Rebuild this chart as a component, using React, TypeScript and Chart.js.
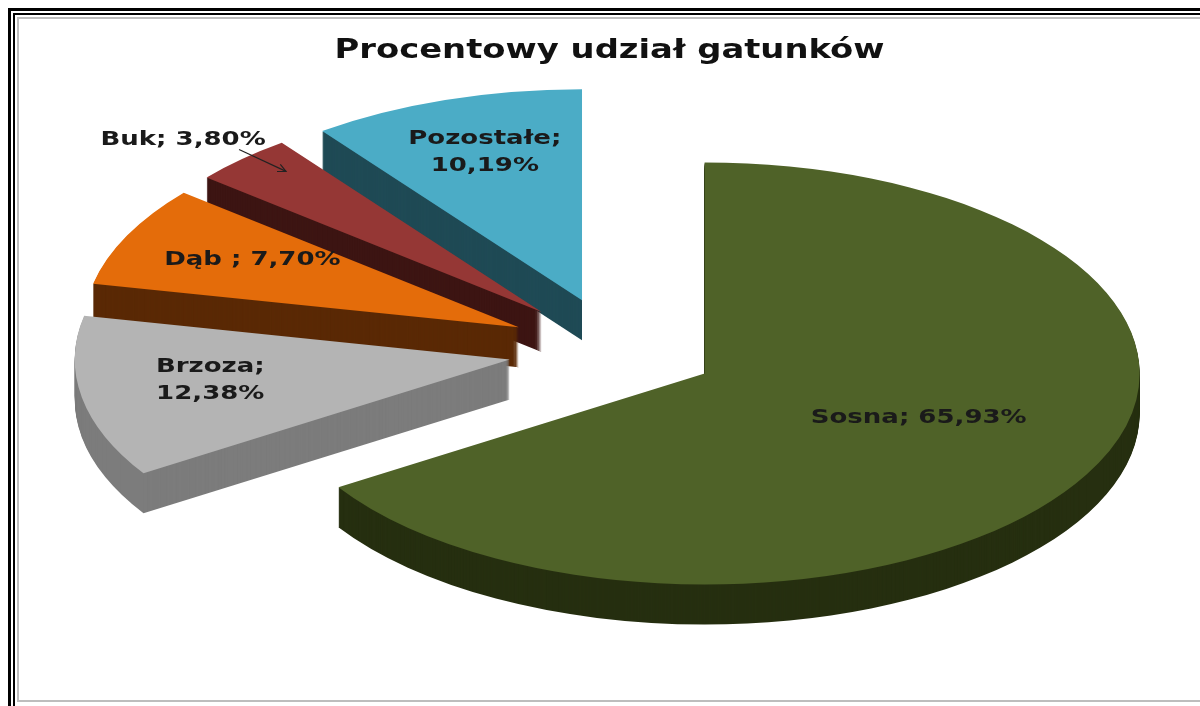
import React, { useEffect, useRef } from 'react';
import { Chart, registerables } from 'chart.js';

Chart.register(...registerables);

// ---- data ----
const TITLE = 'Procentowy udział gatunków';
const categories = ['Sosna', 'Brzoza', 'Dąb ', 'Buk', 'Pozostałe'];
const shares = [65.93, 12.38, 7.7, 3.8, 10.19];
const topColors = ['#4f6228', '#b4b4b4', '#e46c0a', '#953735', '#4bacc6'];
const sideColors = ['#262f10', '#7c7c7c', '#5a2905', '#3d1513', '#1f4a55'];
const labelWrap = [false, true, false, false, true];

// ---- style / geometry settings ----
const TILT = 0.485;
const DEPTH = 40;
const RADIUS = 435;
const explode = [101, 108, 108, 108, 108];
const labelRadius = [0.54, 0.7, 0.68, 1.15, 0.71];
const labelNudge = [[8, -10], [0, -6], [0, -5], [-14, 4], [0, -6]];
const leaderSlice = 3;
const FONT = '"DejaVu Sans", sans-serif';
const STRETCH = 1.3;

const fmt = (v: number) => v.toFixed(2).replace('.', ',') + '%';

function stretchedText(ctx: CanvasRenderingContext2D, text: string, x: number, y: number, size: number) {
  ctx.save();
  ctx.translate(x, y);
  ctx.scale(STRETCH, 1);
  ctx.font = `bold ${size}px ${FONT}`;
  ctx.textAlign = 'center';
  ctx.fillText(text, 0, 0);
  ctx.restore();
}

const pie3d = {
  id: 'pie3d',
  beforeDatasetDraw(chart: any, args: any) {
    const ctx: CanvasRenderingContext2D = chart.ctx;
    const arcs = args.meta.data;
    if (!arcs.length) return false;
    const cx = arcs[0].x;
    const cy = arcs[0].y;
    const shift = (el: any, i: number) => {
      const mid = (el.startAngle + el.endAngle) / 2;
      return [Math.cos(mid) * explode[i], Math.sin(mid) * explode[i]];
    };
    ctx.save();
    ctx.translate(cx, cy);
    ctx.scale(1, TILT);
    ctx.translate(-cx, -cy);
    // extruded side walls
    for (let d = DEPTH; d >= 1; d -= 1) {
      arcs.forEach((el: any, i: number) => {
        const [dx, dy] = shift(el, i);
        const x = el.x + dx;
        const y = el.y + dy + d / TILT;
        ctx.beginPath();
        ctx.moveTo(x, y);
        ctx.arc(x, y, el.outerRadius, el.startAngle, el.endAngle);
        ctx.closePath();
        ctx.fillStyle = sideColors[i];
        ctx.fill();
      });
    }
    // top faces, drawn by the library's arc elements
    arcs.forEach((el: any, i: number) => {
      const [dx, dy] = shift(el, i);
      ctx.save();
      ctx.translate(dx, dy);
      el.draw(ctx);
      ctx.restore();
    });
    ctx.restore();
    return false;
  },
  afterDraw(chart: any) {
    const ctx: CanvasRenderingContext2D = chart.ctx;
    const arcs = chart.getDatasetMeta(0).data;
    ctx.save();
    ctx.fillStyle = '#111';
    ctx.textBaseline = 'alphabetic';
    stretchedText(ctx, TITLE, chart.width / 2, 39, 26);

    ctx.fillStyle = '#1a1a1a';
    arcs.forEach((el: any, i: number) => {
      const mid = (el.startAngle + el.endAngle) / 2;
      const r = explode[i] + labelRadius[i] * el.outerRadius;
      const lx = el.x + Math.cos(mid) * r + labelNudge[i][0];
      const ly = el.y + Math.sin(mid) * r * TILT + labelNudge[i][1];
      const name = categories[i] + ';';
      const val = fmt(shares[i]);
      const lines = labelWrap[i] ? [name, val] : [name + ' ' + val];
      const lh = 27;
      ctx.textBaseline = 'middle';
      lines.forEach((t, j) => {
        stretchedText(ctx, t, lx, ly + (j - (lines.length - 1) / 2) * lh, 20);
      });
      if (i === leaderSlice) {
        const r1 = explode[i] + 1.03 * el.outerRadius;
        const r2 = explode[i] + 0.88 * el.outerRadius;
        const x1 = el.x + Math.cos(mid) * r1 + 6;
        const y1 = el.y + Math.sin(mid) * r1 * TILT - 5;
        const x2 = el.x + Math.cos(mid) * r2 + 8;
        const y2 = el.y + Math.sin(mid) * r2 * TILT - 6;
        ctx.strokeStyle = '#222';
        ctx.lineWidth = 1.2;
        ctx.beginPath();
        ctx.moveTo(x1, y1);
        ctx.lineTo(x2, y2);
        ctx.stroke();
        const a = Math.atan2(y2 - y1, x2 - x1);
        const h = 9;
        ctx.beginPath();
        ctx.moveTo(x2 - h * Math.cos(a - 0.45), y2 - h * Math.sin(a - 0.45));
        ctx.lineTo(x2, y2);
        ctx.lineTo(x2 - h * Math.cos(a + 0.45), y2 - h * Math.sin(a + 0.45));
        ctx.stroke();
      }
    });
    ctx.restore();
  },
};

export default function App() {
  const ref = useRef<HTMLCanvasElement | null>(null);
  useEffect(() => {
    if (!ref.current) return;
    const chart = new Chart(ref.current, {
      type: 'pie',
      data: {
        labels: categories,
        datasets: [
          {
            data: shares,
            backgroundColor: topColors,
            borderWidth: 0,
            clip: false,
          } as any,
        ],
      },
      options: {
        responsive: false,
        animation: false,
        events: [],
        radius: RADIUS,
        layout: { padding: { left: 13, right: 0, top: 0, bottom: 19 } },
        plugins: {
          legend: { display: false },
          title: { display: false },
          tooltip: { enabled: false },
        },
      } as any,
      plugins: [pie3d as any],
    });
    return () => chart.destroy();
  }, []);

  return (
    <div style={{ position: 'fixed', left: 8, top: 8, width: 1192, height: 698, overflow: 'hidden', background: '#fff' }}>
      <div style={{ boxSizing: 'border-box', width: 1300, height: 800, border: '3px solid #000', padding: 2 }}>
        <div style={{ boxSizing: 'border-box', width: '100%', height: '100%', border: '2px solid #000', padding: 2 }}>
          <div style={{ width: 1250, height: 681, border: '2px solid #bdbdbd' }}>
            <canvas ref={ref} width={1181} height={681} style={{ display: 'block' }} />
          </div>
        </div>
      </div>
    </div>
  );
}
